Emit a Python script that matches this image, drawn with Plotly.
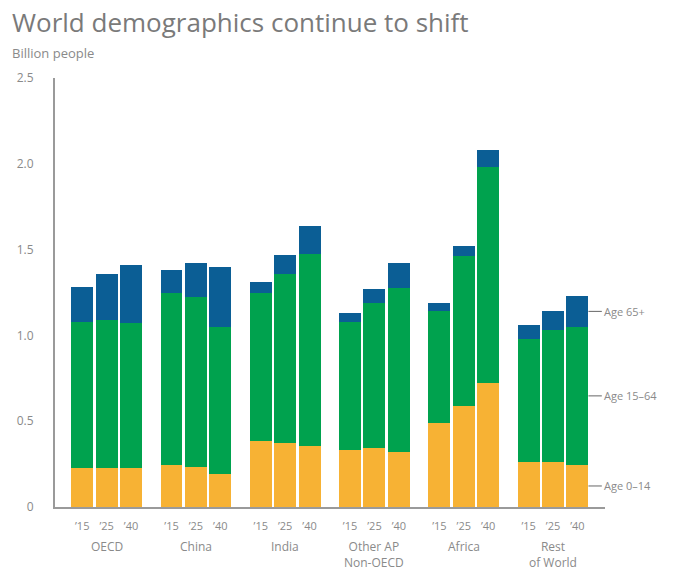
import plotly.graph_objects as go

regions = ["OECD", "China", "India", "Other AP<br>Non-OECD", "Africa", "Rest<br>of World"]
years = ["’15", "’25", "’40"]

# Billion people, per region, for '15, '25, '40
age_0_14 = [
    [0.23, 0.23, 0.23],
    [0.245, 0.235, 0.195],
    [0.385, 0.375, 0.355],
    [0.33, 0.345, 0.32],
    [0.49, 0.59, 0.72],
    [0.26, 0.26, 0.245],
]
age_15_64 = [
    [0.85, 0.86, 0.84],
    [1.00, 0.99, 0.855],
    [0.86, 0.985, 1.12],
    [0.75, 0.845, 0.955],
    [0.65, 0.87, 1.26],
    [0.72, 0.77, 0.805],
]
age_65 = [
    [0.20, 0.27, 0.34],
    [0.135, 0.195, 0.35],
    [0.065, 0.11, 0.165],
    [0.05, 0.08, 0.145],
    [0.05, 0.06, 0.10],
    [0.08, 0.11, 0.18],
]

series = [("Age 0–14", age_0_14, "#F7B234"),
          ("Age 15–64", age_15_64, "#00A24E"),
          ("Age 65+", age_65, "#0B5E95")]

GROUP_PITCH = 3.66
xs, ticktext = [], []
for g in range(len(regions)):
    for j in range(len(years)):
        xs.append(g * GROUP_PITCH + j)
        ticktext.append(years[j])

grey = "#8a8a8a"
font = "Open Sans"

fig = go.Figure()
for name, data, color in series:
    vals = [v for grp in data for v in grp]
    fig.add_trace(go.Bar(x=xs, y=vals, name=name, marker=dict(color=color, line=dict(width=0)),
                         width=0.9, showlegend=False, hoverinfo="skip"))

fig.update_layout(
    barmode="stack",
    width=684, height=573,
    margin=dict(l=55, r=79, t=78, b=66),
    plot_bgcolor="white", paper_bgcolor="white",
    font=dict(family=font, color=grey, size=11),
)
fig.update_xaxes(range=[-1.115, 21.43], tickvals=xs, ticktext=ticktext, showgrid=False,
                 showline=True, linecolor="#9a9a9a", linewidth=2, ticks="", zeroline=False,
                 ticklabelstandoff=8, tickfont=dict(size=11, color=grey))
fig.update_yaxes(range=[0, 2.5], tickvals=[0, 0.5, 1.0, 1.5, 2.0, 2.5],
                 ticktext=["0", "0.5", "1.0", "1.5", "2.0", "2.5"], showgrid=False,
                 showline=True, linecolor="#9a9a9a", linewidth=2, ticks="", zeroline=False,
                 ticklabelstandoff=17, tickfont=dict(size=12, color=grey))

# Region labels
for g, r in enumerate(regions):
    fig.add_annotation(x=g * GROUP_PITCH + 1, y=0, xref="x", yref="y", text=r, showarrow=False,
                       yanchor="top", yshift=-29, font=dict(size=12, color=grey))

# Right-side series labels at midpoints of the last bar
last_x = xs[-1] + 0.45
base = 0
for name, data, color in series:
    v = data[-1][-1]
    mid = base + v / 2
    base += v
    fig.add_shape(type="line", xref="x", yref="y", x0=last_x, x1=last_x + 0.55, y0=mid, y1=mid,
                  line=dict(color="#666666", width=1))
    fig.add_annotation(x=last_x + 0.55, y=mid, xref="x", yref="y", text=name, showarrow=False,
                       xanchor="left", font=dict(size=11, color=grey))

fig.add_annotation(text="World demographics continue to shift", xref="paper", yref="paper",
                   x=-45 / 550, y=1, yanchor="bottom", xanchor="left",
                   yshift=36, showarrow=False, font=dict(size=26, color="#7a7a7a", family=font))
fig.add_annotation(text="Billion people", xref="paper", yref="paper",
                   x=-45 / 550, y=1, yanchor="bottom", xanchor="left",
                   yshift=14, showarrow=False, font=dict(size=13, color=grey, family=font))

fig.write_html("out.html", config={"displayModeBar": False},
               post_script="document.body.style.margin='0';")
